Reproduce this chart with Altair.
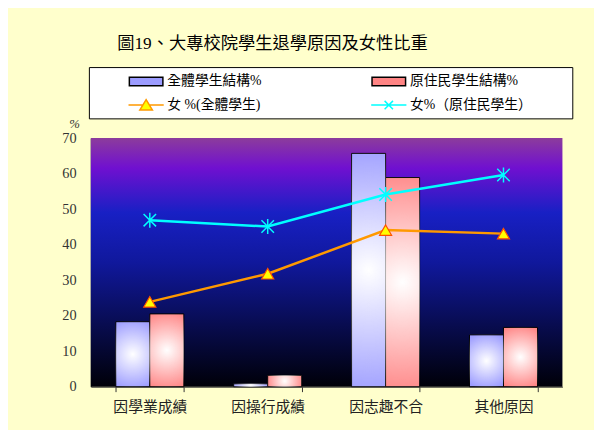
import altair as alt
import pandas as pd

categories = ["因學業成績", "因操行成績", "因志趣不合", "其他原因"]
series_names = ["全體學生結構%", "原住民學生結構%", "女 %(全體學生)", "女%（原住民學生）"]
all_struct = [18.3, 0.8, 65.7, 14.6]
abo_struct = [20.5, 3.2, 58.9, 16.7]
female_all = [23.9, 31.8, 44.1, 43.1]
female_abo = [46.9, 45.1, 54.1, 59.6]
y_ticks = [0, 10, 20, 30, 40, 50, 60, 70]
title_text = "圖19、大專校院學生退學原因及女性比重"

S1, S2, S3, S4 = series_names
BLUE, RED, ORANGE, CYAN = "#9C9CFF", "#FF8484", "#FF9900", "#00FFFF"

bars_df = pd.DataFrame(
    [{"cat": c, "series": S1, "value": v} for c, v in zip(categories, all_struct)]
    + [{"cat": c, "series": S2, "value": v} for c, v in zip(categories, abo_struct)]
)
lines_df = pd.DataFrame(
    [{"cat": c, "series": S3, "value": v} for c, v in zip(categories, female_all)]
    + [{"cat": c, "series": S4, "value": v} for c, v in zip(categories, female_abo)]
)
legend_df = pd.DataFrame({"series": series_names})

LAT = "Liberation Serif, Noto Sans CJK TC"

x_enc = alt.X("cat:N", sort=categories,
              scale=alt.Scale(paddingInner=0.423, paddingOuter=0.2115),
              axis=alt.Axis(title=None, labelAngle=0, tickBand="extent", tickSize=5,
                            tickColor="#333", domainColor="#333", labelPadding=8,
                            labelFont=LAT, labelFontSize=15, labelColor="#222"))
y_enc = alt.Y("value:Q", scale=alt.Scale(domain=[0, 70], nice=False),
              axis=alt.Axis(values=y_ticks, title="%", titleAngle=0,
                            titleX=-17, titleY=-15,
                            titleAlign="center", titleBaseline="middle", titleFont=LAT,
                            titleFontStyle="italic", titleFontWeight="normal", titleFontSize=13,
                            titleColor="#333", ticks=False, grid=False, labelPadding=15,
                            labelOverlap=False, labelSeparation=0,
                            domainColor="#666", domainWidth=1.5,
                            labelFont=LAT, labelFontSize=14.5, labelColor="#333"))

bg_gradient = alt.Gradient(
    gradient="linear", x1=0, y1=0, x2=0, y2=1,
    stops=[
        alt.GradientStop(offset=0, color="#8C3C9C"),
        alt.GradientStop(offset=0.12, color="#7010D0"),
        alt.GradientStop(offset=0.3, color="#1820C4"),
        alt.GradientStop(offset=0.5, color="#10189C"),
        alt.GradientStop(offset=0.75, color="#080C50"),
        alt.GradientStop(offset=1, color="#000008"),
    ],
)
background = alt.Chart(alt.Data(values=[{"a": 1}])).mark_rect(fill=bg_gradient).encode(
    x=alt.value(0), x2=alt.value("width"), y=alt.value(0), y2=alt.value("height")
)

xoff = alt.XOffset("series:N", scale=alt.Scale(domain=[S1, S2], paddingInner=0, paddingOuter=0))

bars_all = alt.Chart(bars_df).transform_filter(alt.datum.series == S1).mark_bar(
    fill=BLUE, stroke="#000000", strokeWidth=1).encode(x=x_enc, xOffset=xoff, y=y_enc)
bars_abo = alt.Chart(bars_df).transform_filter(alt.datum.series == S2).mark_bar(
    fill=RED, stroke="#000000", strokeWidth=1).encode(x=x_enc, xOffset=xoff, y=y_enc)

highlight = alt.Gradient(
    gradient="radial", x1=0.5, y1=0.5, r1=0, x2=0.5, y2=0.5, r2=0.55,
    stops=[alt.GradientStop(offset=0, color="#FFFFFF"),
           alt.GradientStop(offset=1, color="rgba(255,255,255,0)")],
)
bars_hl = alt.Chart(bars_df).mark_bar(fill=highlight, strokeWidth=0).encode(
    x=x_enc, xOffset=xoff, y=y_enc
)

line_all = alt.Chart(lines_df).transform_filter(alt.datum.series == S3).mark_line(
    color=ORANGE, strokeWidth=2.5).encode(x=x_enc, y=y_enc)
line_abo = alt.Chart(lines_df).transform_filter(alt.datum.series == S4).mark_line(
    color=CYAN, strokeWidth=2.5).encode(x=x_enc, y=y_enc)

tri = alt.Chart(lines_df).transform_filter(alt.datum.series == S3).mark_point(
    shape="triangle-up", size=150, filled=True, fill="#FFFF00", stroke="#FF5000",
    strokeWidth=1.2, opacity=1
).encode(x=x_enc, y=y_enc)

star = alt.Chart(lines_df).transform_filter(alt.datum.series == S4).mark_point(
    shape="M-1,-1L1,1M-1,1L1,-1M0,-1.2L0,1.2", size=160, filled=False,
    stroke=CYAN, strokeWidth=1.5, opacity=1
).encode(x=x_enc, y=y_enc)

RECT = "M-2,-0.5H2V0.5H-2Z"
LTRI = "M-2.1,0H-0.4M0.4,0H2.1M0,-0.65L0.75,0.6H-0.75Z"
LSTAR = "M-2.1,0H2.1M-0.5,-0.5L0.5,0.5M-0.5,0.5L0.5,-0.5"

legend = alt.Legend(
    orient="none", legendX=-2, legendY=-72, columns=2, direction="horizontal",
    title="\u00a0", titleOrient="right", titlePadding=36,
    fillColor="#FFFFFF", strokeColor="#000000", padding=5,
    symbolSize=289, symbolOffset=43.5, labelOffset=12, columnPadding=75, rowPadding=7,
    symbolStrokeWidth=1.5, symbolOpacity=1,
    labelFont=LAT, labelFontSize=14, labelColor="#000", labelLimit=300,
)

legend_layer = alt.Chart(legend_df).transform_filter("false").mark_point(
    filled=True, opacity=1, strokeWidth=1.5
).encode(
    fill=alt.Fill("series:N", scale=alt.Scale(domain=series_names,
                  range=[BLUE, RED, "#FFFF00", "transparent"]), legend=legend),
    stroke=alt.Stroke("series:N", scale=alt.Scale(domain=series_names,
                      range=["#000000", "#000000", ORANGE, CYAN]), legend=legend),
    shape=alt.Shape("series:N", scale=alt.Scale(domain=series_names,
                    range=[RECT, RECT, LTRI, LSTAR]), legend=legend),
)

chart = alt.layer(background, bars_all, bars_abo, bars_hl, line_all, line_abo, tri, star,
                  legend_layer).properties(
    width=478, height=252,
    autosize=alt.AutoSizeParams(type="none"),
    padding={"left": 84, "top": 129, "right": 32, "bottom": 41},
    background="#FFFFCC",
    title=alt.TitleParams(title_text, font=LAT, fontSize=17.5, fontWeight="normal", color="#000",
                          anchor="middle", dx=-55, offset=5, baseline="middle", frame="group"),
).configure_view(stroke=None).configure_axisY(labelOverlap=False)

chart.save("out.html", embed_options={"renderer": "svg", "actions": False})
